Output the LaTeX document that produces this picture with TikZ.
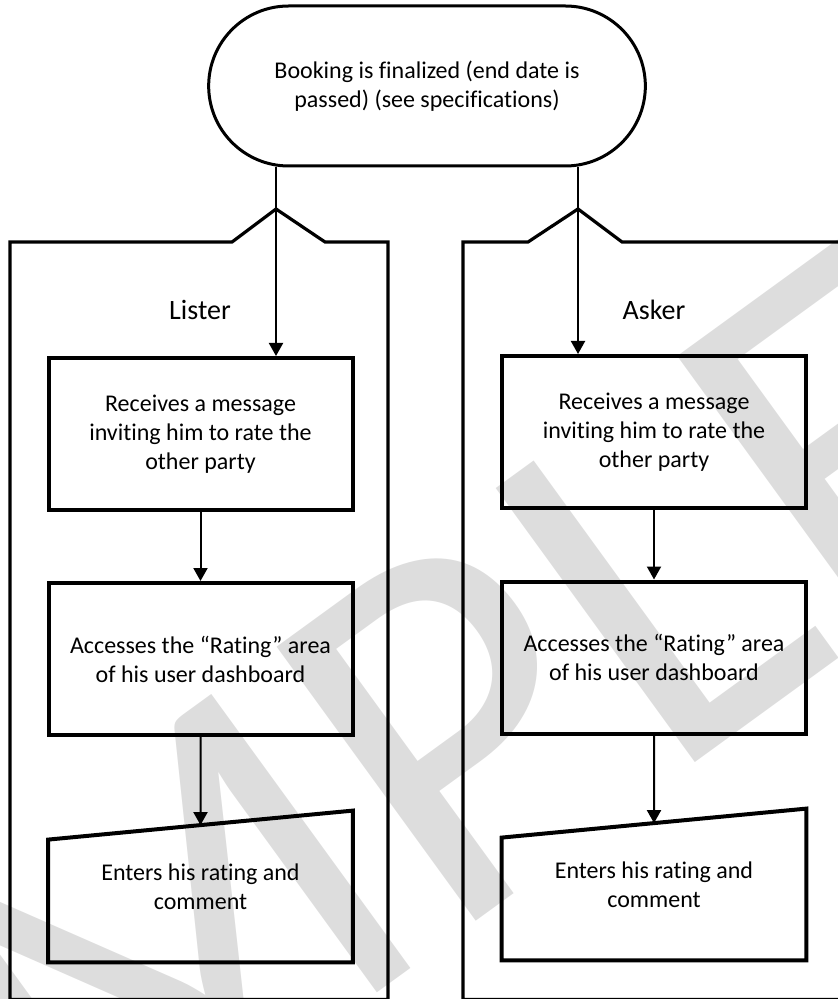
\documentclass[tikz,border=0pt]{standalone}
\usepackage{fontspec}
\setmainfont{Carlito}[Ligatures=NoCommon]
\usetikzlibrary{arrows.meta,shapes.misc,calc}
\definecolor{wmgray}{RGB}{221,221,221}

\begin{document}
\begin{tikzpicture}[x=0.5pt, y=-0.5pt,
  box/.style={draw, line width=2pt, minimum width=152pt, minimum height=76pt, align=center, font=\fontsize{12}{14.5}\selectfont},
  inbox/.style={minimum width=152pt, minimum height=75.5pt, align=center, font=\fontsize{12}{14.5}\selectfont},
  flow/.style={line width=1pt, -{Triangle[width=7pt,length=6.5pt]}},
  lane/.style={line width=1.6pt},
  lanename/.style={font=\fontsize{14}{16}\selectfont}]
\useasboundingbox (0,0) rectangle (838,999);
\clip (0,0) rectangle (838,999);

% watermark
\node [text=wmgray, rotate=36, anchor=base west, inner sep=0pt, font=\fontsize{264}{264}\selectfont] (wm) at (-360,1529) {SAMPLE};

% start
\node [rounded rectangle, draw, line width=1.5pt, minimum width=225pt, minimum height=80pt, align=center, font=\fontsize{12}{14.5}\selectfont] (start) at (427,86) {Booking is finalized (end date is\\passed) (see specifications)};

% lanes
\draw [lane] (10,999.5) -- (10,242) -- (232,242) -- (276,209) -- (325,242) -- (388,242) -- (388,999.5) -- cycle;
\draw [lane] (850,999.5) -- (463,999.5) -- (463,242) -- (528,242) -- (578,209) -- (622,242) -- (850,242);
\node [lanename] (lister) at (200,310) {Lister};
\node [lanename] (asker) at (654,310) {Asker};

% lister
\node [box] (l1) at (200.5,434) {Receives a message\\inviting him to rate the\\other party};
\node [box] (l2) at (200.5,659) {Accesses the “Rating” area\\of his user dashboard};
\node [inbox] (l3) at (200.5,886.5) {Enters his rating and\\comment};
\draw [line width=2pt] (l3.south west) -- ([yshift=-14.5pt]l3.north west) -- (l3.north east) -- (l3.south east) -- cycle;
\coordinate (l3top) at ($([yshift=-14.5pt]l3.north west)!0.5!(l3.north east)$);

% asker
\node [box] (r1) at (654,432) {Receives a message\\inviting him to rate the\\other party};
\node [box] (r2) at (654,657.5) {Accesses the “Rating” area\\of his user dashboard};
\node [inbox] (r3) at (654,884.5) {Enters his rating and\\comment};
\draw [line width=2pt] (r3.south west) -- ([yshift=-14.5pt]r3.north west) -- (r3.north east) -- (r3.south east) -- cycle;
\coordinate (r3top) at ($([yshift=-14.5pt]r3.north west)!0.5!(r3.north east)$);

% arrows
\draw [flow] ([xshift=-75.5pt]start.south) -- ([xshift=-75.5pt]start.south |- l1.north);
\draw [flow] ([xshift=75.5pt]start.south) -- ([xshift=75.5pt]start.south |- r1.north);
\draw [flow] (l1.south) -- (l2.north);
\draw [flow] (l2.south) -- (l3top);
\draw [flow] (r1.south) -- (r2.north);
\draw [flow] (r2.south) -- (r3top);
\end{tikzpicture}
\end{document}
